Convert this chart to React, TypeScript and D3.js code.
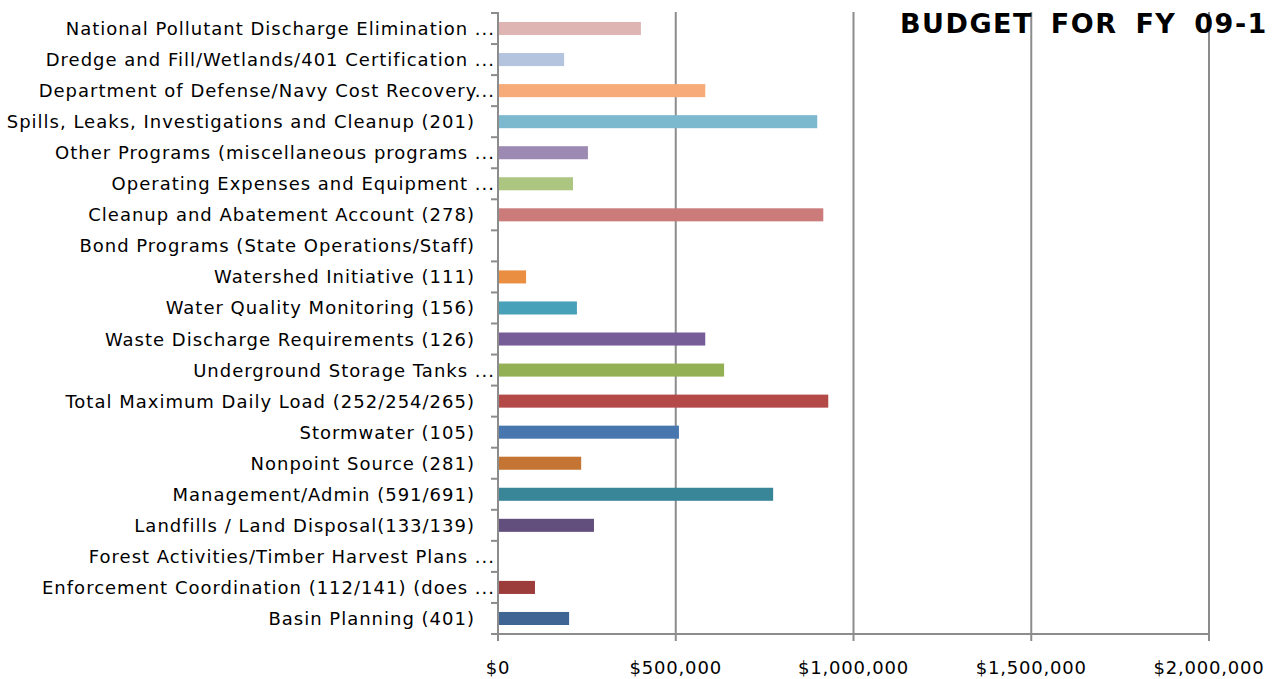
import React from "react";
import * as d3 from "d3";

const categories = [
  "National Pollutant Discharge Elimination ...",
  "Dredge and Fill/Wetlands/401 Certification ...",
  "Department of Defense/Navy Cost Recovery...",
  "Spills, Leaks, Investigations and Cleanup (201)",
  "Other Programs (miscellaneous programs ...",
  "Operating Expenses and Equipment ...",
  "Cleanup and Abatement Account (278)",
  "Bond Programs (State Operations/Staff)",
  "Watershed Initiative (111)",
  "Water Quality Monitoring (156)",
  "Waste Discharge Requirements (126)",
  "Underground Storage Tanks ...",
  "Total Maximum Daily Load (252/254/265)",
  "Stormwater (105)",
  "Nonpoint Source (281)",
  "Management/Admin (591/691)",
  "Landfills / Land Disposal(133/139)",
  "Forest Activities/Timber Harvest Plans ...",
  "Enforcement Coordination (112/141) (does ...",
  "Basin Planning (401)",
];

const values = [
  402000, 186000, 583000, 898000, 253000, 211000, 915000, 0, 79000, 222000,
  583000, 636000, 929000, 509000, 234000, 774000, 270000, 0, 104000, 200000,
];

const colors = [
  "#DFB5B4", "#B4C3DE", "#F7AB78", "#7CB9CF", "#9D8AB3", "#ACC581", "#CB7B7A",
  "#888888", "#EA8E42", "#47A1B8", "#775D97", "#93B054", "#B34A47", "#4877B0",
  "#C47533", "#398699", "#634F7D", "#888888", "#9C3D3B", "#3F6594",
];

const xTicks = [0, 500000, 1000000, 1500000, 2000000];
const title = "BUDGET FOR FY 09-1";

export default function App() {
  const W = 1278;
  const H = 679;
  const x = d3.scaleLinear().domain([0, 2000000]).range([498, 1209]);
  const y = d3
    .scaleBand<string>()
    .domain(categories)
    .range([13, 634])
    .paddingInner(0.58)
    .paddingOuter(0.29);
  const band = d3.scaleBand<string>().domain(categories).range([13, 634]);
  const fmt = (v: number) => "$" + d3.format(",")(v);
  const font = "'DejaVu Sans', Verdana, sans-serif";
  const gridColor = "#8c8c8c";

  return (
    <svg
      width={W}
      height={H}
      style={{ position: "absolute", left: 0, top: 0, background: "#fff" }}
    >
      {xTicks.slice(1).map((t) => (
        <line key={t} x1={x(t)} x2={x(t)} y1={12} y2={634} stroke={gridColor} strokeWidth={2} />
      ))}
      {categories.map((c, i) => (
        <rect
          key={c}
          x={x(0)}
          y={y(c)}
          width={x(values[i]) - x(0)}
          height={y.bandwidth()}
          fill={colors[i]}
        />
      ))}
      <line x1={498} x2={498} y1={12} y2={634} stroke={gridColor} strokeWidth={2} />
      <line x1={491} x2={1209} y1={634} y2={634} stroke={gridColor} strokeWidth={2} />
      {categories.map((c) => (
        <line key={c} x1={491} x2={498} y1={band(c)!} y2={band(c)!} stroke={gridColor} strokeWidth={2} />
      ))}
      {xTicks.map((t) => (
        <line key={t} x1={x(t)} x2={x(t)} y1={634} y2={641} stroke={gridColor} strokeWidth={2} />
      ))}
      {categories.map((c) => (
        <text
          key={c}
          x={c.endsWith("...") ? 495 : 475}
          y={band(c)! + band.bandwidth() / 2}
          dy="0.36em"
          textAnchor="end"
          fontFamily={font}
          fontSize={18}
          letterSpacing={1}
          fill="#000"
        >
          {c}
        </text>
      ))}
      {xTicks.map((t) => (
        <text
          key={t}
          x={x(t)}
          y={668}
          dy="0.36em"
          textAnchor="middle"
          fontFamily={font}
          fontSize={18}
          letterSpacing={0.8}
          fill="#000"
        >
          {fmt(t)}
        </text>
      ))}
      <text
        x={900}
        y={33}
        fontFamily={font}
        fontWeight="bold"
        fontSize={27}
        letterSpacing={1.5}
        wordSpacing={7}
        fill="#000"
      >
        {title}
      </text>
    </svg>
  );
}
